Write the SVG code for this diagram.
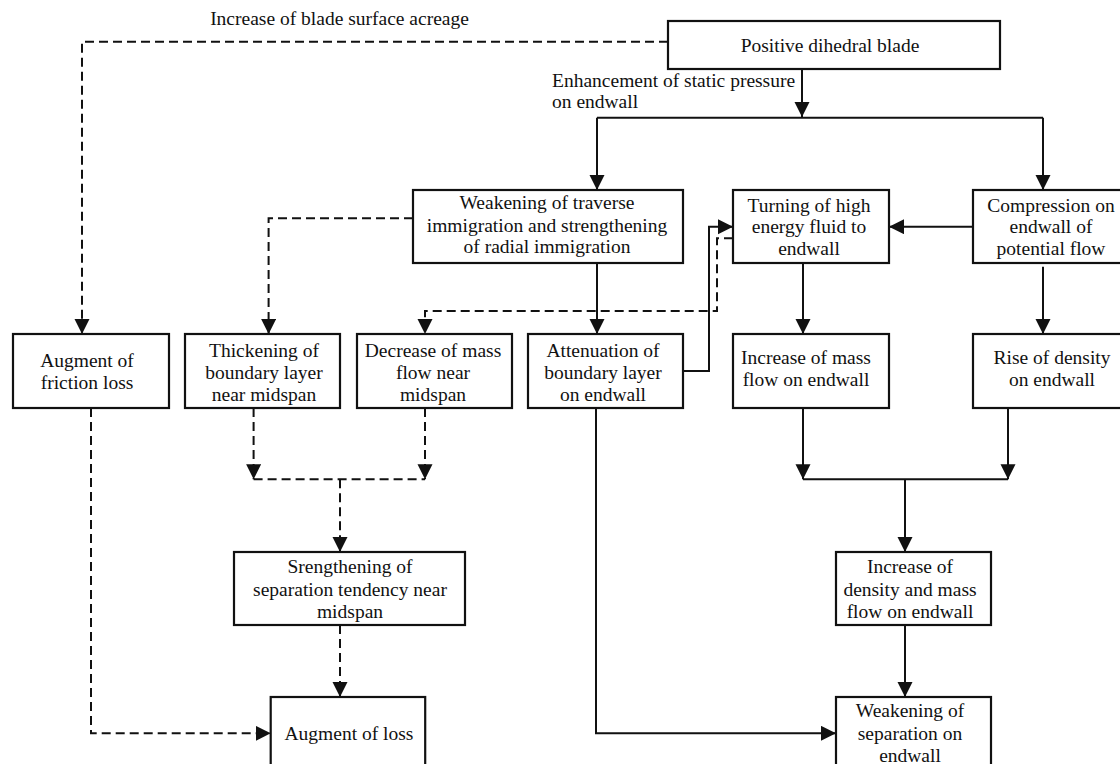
<svg xmlns="http://www.w3.org/2000/svg" width="1120" height="764" viewBox="0 0 1120 764">
<style>
.box{fill:#fff;stroke:#111;stroke-width:2.2}
.t{font-family:"Liberation Serif","Times New Roman",serif;font-size:19.5px;fill:#111;text-anchor:middle}
.l{font-family:"Liberation Serif","Times New Roman",serif;font-size:19.5px;fill:#111}
.c{fill:none;stroke:#111;stroke-width:2}
.d{fill:none;stroke:#111;stroke-width:2;stroke-dasharray:9 5}
.a{marker-end:url(#ah)}
</style>
<defs>
<marker id="ah" markerUnits="userSpaceOnUse" markerWidth="16" markerHeight="16" refX="15" refY="7.5" orient="auto">
<path d="M0,0 L15,7.5 L0,15 z" fill="#111"/>
</marker>
</defs>
<rect width="1120" height="764" fill="#fff"/>
<g id="labels">
<text class="t" x="339.5" y="25">Increase of blade surface acreage</text>
<text class="l" x="552" y="87">Enhancement of static pressure</text>
<text class="l" x="552" y="108">on endwall</text>
</g>
<g id="connectors">
<path class="d a" d="M668,41.7 H82 V334"/>
<path class="c a" d="M802,69 V117"/>
<path class="c" d="M597,117.7 H1043"/>
<path class="c a" d="M597,117.7 V190"/>
<path class="c a" d="M1043,117.7 V190"/>
<path class="d a" d="M413,218.3 H268.6 V334"/>
<path class="c a" d="M597,262.7 V334"/>
<path class="c a" d="M973,226.7 H889"/>
<path class="c a" d="M683,371 H709 V226.7 H733"/>
<path class="d a" d="M733,238.3 H717 V311 H425 V334"/>
<path class="c a" d="M803,262.7 V334"/>
<path class="c a" d="M1043,266.7 V334"/>
<path class="d a" d="M91,408 V733.3 H270.7"/>
<path class="d a" d="M253.6,408 V479.3"/>
<path class="d a" d="M425,408 V479.3"/>
<path class="d" d="M253.6,479.3 H425"/>
<path class="d a" d="M340,479.3 V552"/>
<path class="d a" d="M340,625 V697"/>
<path class="c a" d="M596,408 V733.3 H836"/>
<path class="c a" d="M803,408 V479.3"/>
<path class="c a" d="M1008,408 V479.3"/>
<path class="c" d="M803,479.3 H1008"/>
<path class="c a" d="M905,479.3 V552"/>
<path class="c a" d="M905,625 V697"/>
</g>
<g id="positive">
<rect class="box" x="668" y="21" width="332" height="48"/>
<text class="t" x="830" y="52">Positive dihedral blade</text>
</g>
<g id="weakening-traverse">
<rect class="box" x="413" y="190" width="270" height="73"/>
<text class="t" x="547" y="209">Weakening of traverse</text>
<text class="t" x="547" y="231.5">immigration and strengthening</text>
<text class="t" x="547" y="253">of radial immigration</text>
</g>
<g id="turning">
<rect class="box" x="733" y="190" width="156" height="73"/>
<text class="t" x="809" y="211.5">Turning of high</text>
<text class="t" x="809" y="233">energy fluid to</text>
<text class="t" x="809" y="255">endwall</text>
</g>
<g id="compression">
<rect class="box" x="973" y="190" width="160" height="73"/>
<text class="t" x="1051" y="211.5">Compression on</text>
<text class="t" x="1051" y="233">endwall of</text>
<text class="t" x="1051" y="255">potential flow</text>
</g>
<g id="friction">
<rect class="box" x="13" y="334" width="156" height="74"/>
<text class="t" x="87" y="367">Augment of</text>
<text class="t" x="87" y="389">friction loss</text>
</g>
<g id="thickening">
<rect class="box" x="185" y="334" width="155" height="74"/>
<text class="t" x="264" y="356.5">Thickening of</text>
<text class="t" x="264" y="378.5">boundary layer</text>
<text class="t" x="264" y="400.5">near midspan</text>
</g>
<g id="decrease">
<rect class="box" x="357" y="334" width="155" height="74"/>
<text class="t" x="433" y="356.5">Decrease of mass</text>
<text class="t" x="433" y="378.5">flow near</text>
<text class="t" x="433" y="400.5">midspan</text>
</g>
<g id="attenuation">
<rect class="box" x="528" y="334" width="155" height="74"/>
<text class="t" x="603" y="356.5">Attenuation of</text>
<text class="t" x="603" y="378.5">boundary layer</text>
<text class="t" x="603" y="400.5">on endwall</text>
</g>
<g id="increase-mass">
<rect class="box" x="733" y="334" width="156" height="74"/>
<text class="t" x="806" y="363.5">Increase of mass</text>
<text class="t" x="806" y="385.5">flow on endwall</text>
</g>
<g id="rise">
<rect class="box" x="973" y="334" width="160" height="74"/>
<text class="t" x="1052" y="364">Rise of density</text>
<text class="t" x="1052" y="386">on endwall</text>
</g>
<g id="srengthening">
<rect class="box" x="234" y="552" width="231" height="73"/>
<text class="t" x="350" y="573">Srengthening of</text>
<text class="t" x="350" y="595.5">separation tendency near</text>
<text class="t" x="350" y="617.5">midspan</text>
</g>
<g id="increase-density">
<rect class="box" x="836" y="552" width="155" height="73"/>
<text class="t" x="910" y="573">Increase of</text>
<text class="t" x="910" y="595.5">density and mass</text>
<text class="t" x="910" y="617.5">flow on endwall</text>
</g>
<g id="augment-loss">
<rect class="box" x="270.7" y="697" width="154.5" height="75"/>
<text class="t" x="349" y="739.5">Augment of loss</text>
</g>
<g id="weakening-separation">
<rect class="box" x="836" y="697" width="155" height="75"/>
<text class="t" x="910" y="717">Weakening of</text>
<text class="t" x="910" y="739.5">separation on</text>
<text class="t" x="910" y="761.5">endwall</text>
</g>
</svg>
